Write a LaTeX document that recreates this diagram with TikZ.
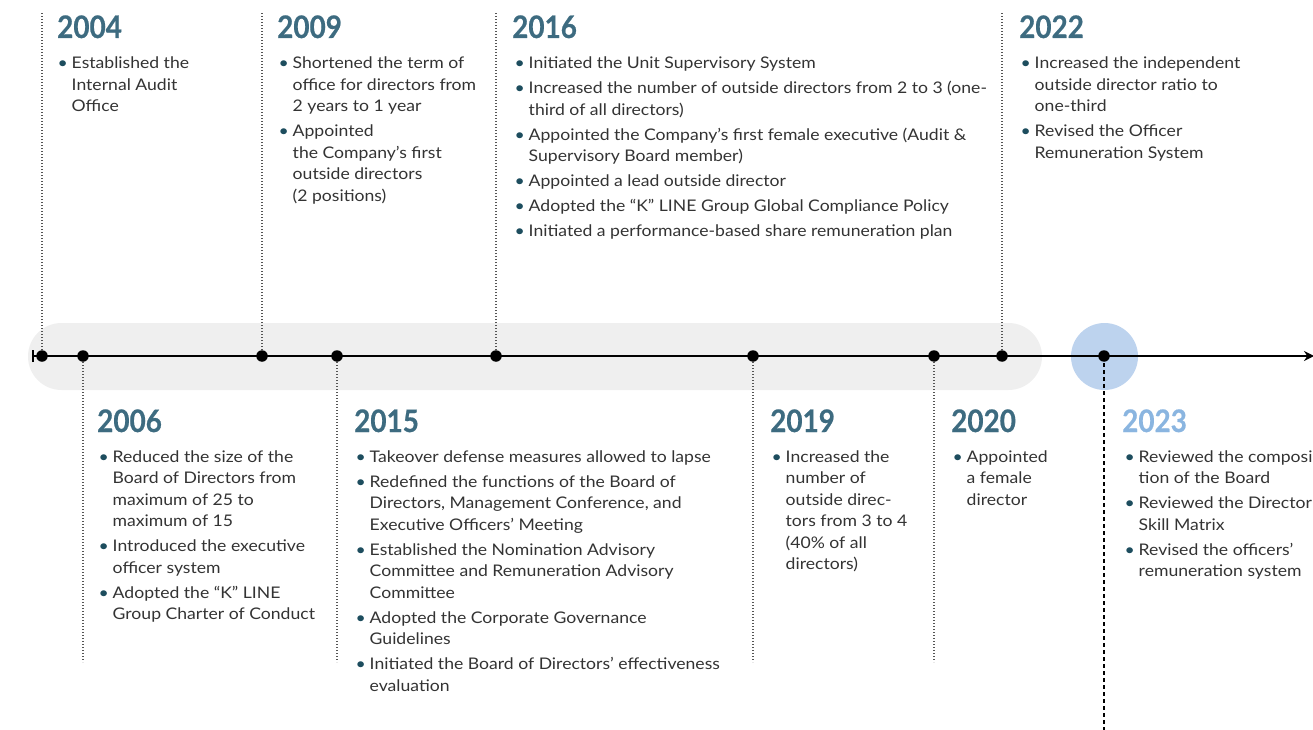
\documentclass[tikz,border=0pt]{standalone}
\usepackage{fontspec}
\setmainfont{Lato}[FakeStretch=1.1]
\newfontfamily\yearfont{Lato}[FakeStretch=0.9, BoldFeatures={FakeBold=0.6}]
\usetikzlibrary{arrows.meta}
\definecolor{yearc}{HTML}{3D6B80}
\definecolor{yearlt}{HTML}{8AB5E0}
\definecolor{bodyc}{HTML}{333333}
\definecolor{bulc}{HTML}{1D4D5E}
\definecolor{bandc}{HTML}{EFEFEF}
\definecolor{circc}{HTML}{BDD3EE}
\definecolor{vlinec}{HTML}{555555}
\newcommand\bl{\makebox[14.5pt][l]{\hspace{0.5pt}\textcolor{bulc}{•}}}
\tikzset{
  yearlabel/.style={anchor=base west, inner sep=0pt, text=yearc, font=\yearfont\fontsize{31}{31}\selectfont\bfseries},
  bodytext/.style={anchor=base west, inner sep=0pt, text=bodyc, font=\fontsize{16}{21.5}\selectfont},
  evdot/.style={circle, fill=black, inner sep=0pt, minimum size=11.5pt},
  vdotted/.style={draw=vlinec, line width=1.1pt, dash pattern=on 1.2pt off 1.8pt},
  vdashed/.style={draw=black, line width=1.1pt, dash pattern=on 4pt off 3pt},
}
\begin{document}
\begin{tikzpicture}[x=1pt, y=-1pt]
\useasboundingbox (0,0) rectangle (1313,730);
% band and highlight
\fill[bandc, rounded corners=33.5pt] (28,323) rectangle (1042,390);
\fill[circc] (1104.5,356.5) circle (33.5);
% event positions
\coordinate (p2004) at (42,356);
\coordinate (p2006) at (83,356);
\coordinate (p2009) at (262,356);
\coordinate (p2015) at (337,356);
\coordinate (p2016) at (496,356);
\coordinate (p2019) at (753,356);
\coordinate (p2020) at (934,356);
\coordinate (p2022) at (1002,356);
\coordinate (p2023) at (1104,356);
\coordinate (t2004) at (42,12);
\coordinate (t2009) at (262,12);
\coordinate (t2016) at (496,12);
\coordinate (t2022) at (1002,12);
\coordinate (b2006) at (83,662);
\coordinate (b2015) at (337,662);
\coordinate (b2019) at (753,662);
\coordinate (b2020) at (934,662);
\coordinate (b2023) at (1104,732);
\coordinate (lstart) at (32,356);
\coordinate (lend) at (1314,356);
% connectors
\draw[vdotted] (p2004) -- (t2004);
\draw[vdotted] (p2009) -- (t2009);
\draw[vdotted] (p2016) -- (t2016);
\draw[vdotted] (p2022) -- (t2022);
\draw[vdotted] (p2006) -- (b2006);
\draw[vdotted] (p2015) -- (b2015);
\draw[vdotted] (p2019) -- (b2019);
\draw[vdotted] (p2020) -- (b2020);
\draw[vdashed] (p2023) -- (b2023);
% main axis
\draw[line width=2.4pt, {Bar[width=12pt,line width=2pt]}-{Stealth[length=10pt,width=10pt]}] (lstart) -- (lend);
% dots
\foreach \y in {2004,2006,2009,2015,2016,2019,2020,2022,2023}{
  \node[evdot] (d\y) at (p\y) {};
}
% years top
\node[yearlabel] (y2004) at (57,38) {2004};
\node[yearlabel] (y2009) at (277,38) {2009};
\node[yearlabel] (y2016) at (512,38) {2016};
\node[yearlabel] (y2022) at (1019,38) {2022};
% years bottom
\node[yearlabel] (y2006) at (97,432) {2006};
\node[yearlabel] (y2015) at (354,432) {2015};
\node[yearlabel] (y2019) at (770,432) {2019};
\node[yearlabel] (y2020) at (951,432) {2020};
\node[yearlabel, text=yearlt] (y2023) at (1122,432) {2023};
% bodies top
\node[bodytext] (x2004) at (57,69) {\begin{tabular}[t]{@{}l@{}l@{}}
\bl & Established the\\ & Internal Audit\\ & Office
\end{tabular}};
\node[bodytext] (x2009) at (278,69) {\begin{tabular}[t]{@{}l@{}l@{}}
\bl & Shortened the term of\\ & office for directors from\\ & 2 years to 1 year\\[3.5pt]
\bl & Appointed\\ & the Company’s first\\ & outside directors\\ & (2 positions)
\end{tabular}};
\node[bodytext] (x2016) at (514,69) {\begin{tabular}[t]{@{}l@{}l@{}}
\bl & Initiated the Unit Supervisory System\\[3.5pt]
\bl & Increased the number of outside directors from 2 to 3 (one-\\ & third of all directors)\\[3.5pt]
\bl & Appointed the Company’s first female executive (Audit \&\\ & Supervisory Board member)\\[3.5pt]
\bl & Appointed a lead outside director\\[3.5pt]
\bl & Adopted the “K” LINE Group Global Compliance Policy\\[3.5pt]
\bl & Initiated a performance-based share remuneration plan
\end{tabular}};
\node[bodytext] (x2022) at (1020,69) {\begin{tabular}[t]{@{}l@{}l@{}}
\bl & Increased the independent\\ & outside director ratio to\\ & one-third\\[3.5pt]
\bl & Revised the Officer\\ & Remuneration System
\end{tabular}};
% bodies bottom
\node[bodytext] (x2006) at (98,462) {\begin{tabular}[t]{@{}l@{}l@{}}
\bl & Reduced the size of the\\ & Board of Directors from\\ & maximum of 25 to\\ & maximum of 15\\[3.5pt]
\bl & Introduced the executive\\ & officer system\\[3.5pt]
\bl & Adopted the “K” LINE\\ & Group Charter of Conduct
\end{tabular}};
\node[bodytext] (x2015) at (355,462) {\begin{tabular}[t]{@{}l@{}l@{}}
\bl & Takeover defense measures allowed to lapse\\[3.5pt]
\bl & Redefined the functions of the Board of\\ & Directors, Management Conference, and\\ & Executive Officers’ Meeting\\[3.5pt]
\bl & Established the Nomination Advisory\\ & Committee and Remuneration Advisory\\ & Committee\\[3.5pt]
\bl & Adopted the Corporate Governance\\ & Guidelines\\[3.5pt]
\bl & Initiated the Board of Directors’ effectiveness\\ & evaluation
\end{tabular}};
\node[bodytext] (x2019) at (771,462) {\begin{tabular}[t]{@{}l@{}l@{}}
\bl & Increased the\\ & number of\\ & outside direc-\\ & tors from 3 to 4\\ & (40\% of all\\ & directors)
\end{tabular}};
\node[bodytext] (x2020) at (952,462) {\begin{tabular}[t]{@{}l@{}l@{}}
\bl & Appointed\\ & a female\\ & director
\end{tabular}};
\node[bodytext] (x2023) at (1124,462) {\begin{tabular}[t]{@{}l@{}l@{}}
\bl & Reviewed the composi-\\ & tion of the Board\\[3.5pt]
\bl & Reviewed the Director\\ & Skill Matrix\\[3.5pt]
\bl & Revised the officers’\\ & remuneration system
\end{tabular}};
\end{tikzpicture}
\end{document}
